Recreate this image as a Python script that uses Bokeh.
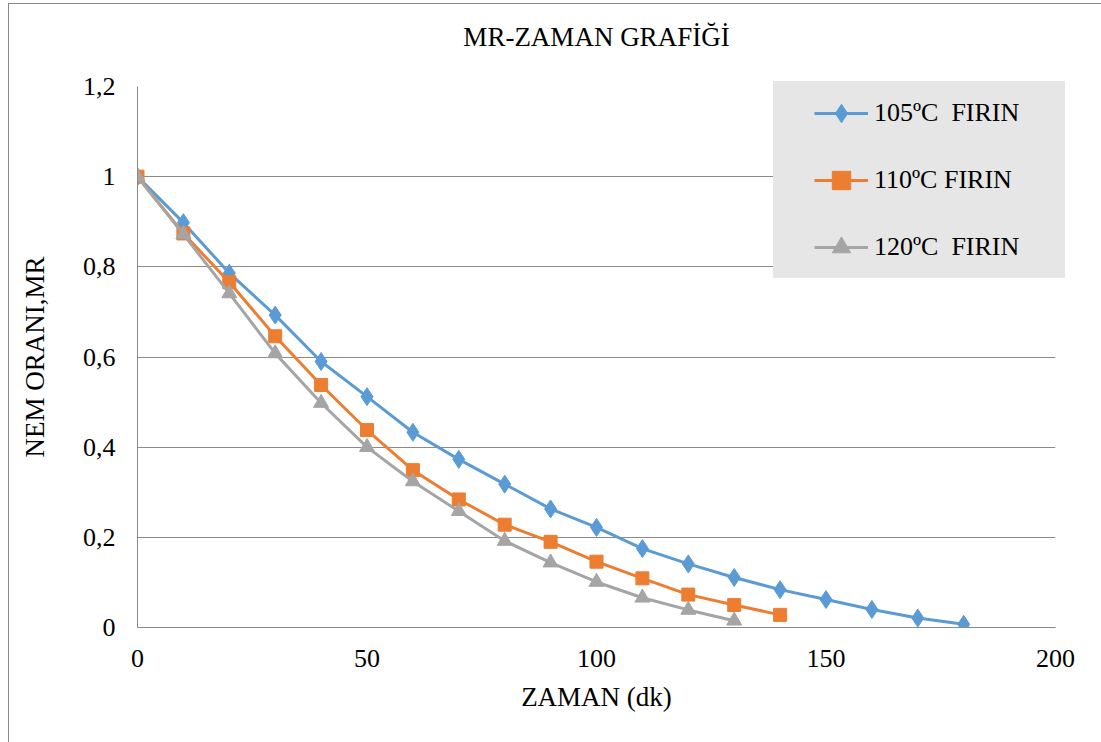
from bokeh.plotting import figure
from bokeh.models import (FixedTicker, CustomJSTickFormatter, Legend, LegendItem, Range1d, Title)
from bokeh.embed import file_html
from bokeh.resources import INLINE

# ---- data ----
time_105 = [0, 10, 20, 30, 40, 50, 60, 70, 80, 90, 100, 110, 120, 130, 140, 150, 160, 170, 180]
mr_105 = [1.0, 0.898, 0.786, 0.693, 0.590, 0.512, 0.433, 0.373, 0.318, 0.263, 0.222, 0.175,
          0.141, 0.111, 0.084, 0.062, 0.040, 0.021, 0.007]
time_110 = [0, 10, 20, 30, 40, 50, 60, 70, 80, 90, 100, 110, 120, 130, 140]
mr_110 = [1.0, 0.874, 0.766, 0.646, 0.538, 0.438, 0.349, 0.284, 0.228, 0.190, 0.146, 0.109,
          0.073, 0.050, 0.028]
time_120 = [0, 10, 20, 30, 40, 50, 60, 70, 80, 90, 100, 110, 120, 130]
mr_120 = [1.0, 0.872, 0.741, 0.608, 0.498, 0.400, 0.324, 0.258, 0.192, 0.144, 0.101, 0.066,
          0.039, 0.015]
labels = ["105ºC  FIRIN", "110ºC FIRIN", "120ºC  FIRIN"]
x_ticks = [0, 50, 100, 150, 200]
y_ticks = [0, 0.2, 0.4, 0.6, 0.8, 1.0, 1.2]
chart_title = "MR-ZAMAN GRAFİĞİ"

FONT = "Liberation Serif"
GRID = "#8a8a8a"
LEGEND_BG = "#e6e6e6"
BLUE, ORANGE, GRAY = "#5B9BD5", "#ED7D31", "#A5A5A5"

p = figure(width=1101, height=742, output_backend="svg", toolbar_location=None,
           x_range=Range1d(0, 200), y_range=Range1d(0, 1.2),
           min_border_left=137, min_border_right=46, min_border_top=86, min_border_bottom=115,
           title=None)
p.outline_line_color = None
p.background_fill_color = "white"
p.border_fill_color = "white"

# outer chart border (left/top edges) and the parts of the legend box that lie
# outside the plotting frame (the frame clips the legend)
p.stylesheets = [
    ":host { position: relative; }",
    ":host::after { content: ''; position: absolute; left: 8px; top: 3px; right: 0; bottom: 0;"
    " border-left: 1px solid %s; border-top: 1px solid %s; pointer-events: none; z-index: 10; }"
    % (GRID, GRID),
    ":host::before { content: ''; position: absolute; left: 773px; top: 81px; width: 292px;"
    " height: 197px; box-sizing: border-box; border-top: 9px solid %s;"
    " border-right: 14px solid %s; border-bottom: 8px solid %s; pointer-events: none;"
    " z-index: 10; }" % (LEGEND_BG, LEGEND_BG, LEGEND_BG),
]

# spacer panel nearest the frame, then the real title above it
p.add_layout(Title(text=" ", text_font_size="1px", standoff=32), "above")
p.add_layout(Title(text=chart_title, text_font=FONT, text_font_size="27px",
                   text_font_style="normal", align="center", text_color="#000000",
                   standoff=0), "above")

# axes
for ax in (p.xaxis[0], p.yaxis[0]):
    ax.major_tick_line_color = None
    ax.minor_tick_line_color = None
    ax.major_tick_out = 0
    ax.major_tick_in = 0
    ax.minor_tick_out = 0
    ax.minor_tick_in = 0
    ax.major_label_text_font = FONT
    ax.major_label_text_font_size = "26px"
    ax.major_label_text_color = "#000000"
    ax.axis_label_text_font = FONT
    ax.axis_label_text_font_size = "27px"
    ax.axis_label_text_font_style = "normal"
    ax.axis_label_text_color = "#000000"
    ax.axis_line_color = GRID
    ax.axis_line_width = 1

p.xaxis.ticker = FixedTicker(ticks=x_ticks)
p.yaxis.ticker = FixedTicker(ticks=y_ticks)
p.yaxis.formatter = CustomJSTickFormatter(
    code="const s = (Math.round(tick*10)/10).toString(); return s.replace('.', ',');")
p.xaxis.axis_label = "ZAMAN (dk)"
p.yaxis.axis_label = "NEM ORANI,MR"
p.xaxis.major_label_standoff = 22
p.yaxis.major_label_standoff = 22
p.xaxis.axis_label_standoff = 12
p.yaxis.axis_label_standoff = 30

p.xgrid.grid_line_color = None
p.ygrid.grid_line_color = GRID
p.ygrid.grid_line_width = 1

# series
l1 = p.line(time_105, mr_105, line_color=BLUE, line_width=3)
s1 = p.scatter(time_105, mr_105, marker="diamond", size=18, fill_color=BLUE, line_color=BLUE)
l2 = p.line(time_110, mr_110, line_color=ORANGE, line_width=3)
s2 = p.scatter(time_110, mr_110, marker="square", size=13, fill_color=ORANGE, line_color=ORANGE)
l3 = p.line(time_120, mr_120, line_color=GRAY, line_width=3)
s3 = p.scatter(time_120, mr_120, marker="triangle", size=15, fill_color=GRAY, line_color=GRAY)

legend = Legend(items=[LegendItem(label=labels[0], renderers=[l1, s1]),
                       LegendItem(label=labels[1], renderers=[l2, s2]),
                       LegendItem(label=labels[2], renderers=[l3, s3])],
                location=(636, 357), margin=0, padding=10, spacing=21,
                title=" ", title_location="left", title_text_font_size="1px",
                title_standoff=40,
                glyph_width=54, glyph_height=46, label_height=46, label_width=230,
                label_standoff=6,
                label_text_font=FONT, label_text_font_size="26px", label_text_color="#000000",
                background_fill_color=LEGEND_BG, background_fill_alpha=1,
                border_line_color=None)
p.add_layout(legend, "center")

open("out.html", "w").write(file_html(p, INLINE))
